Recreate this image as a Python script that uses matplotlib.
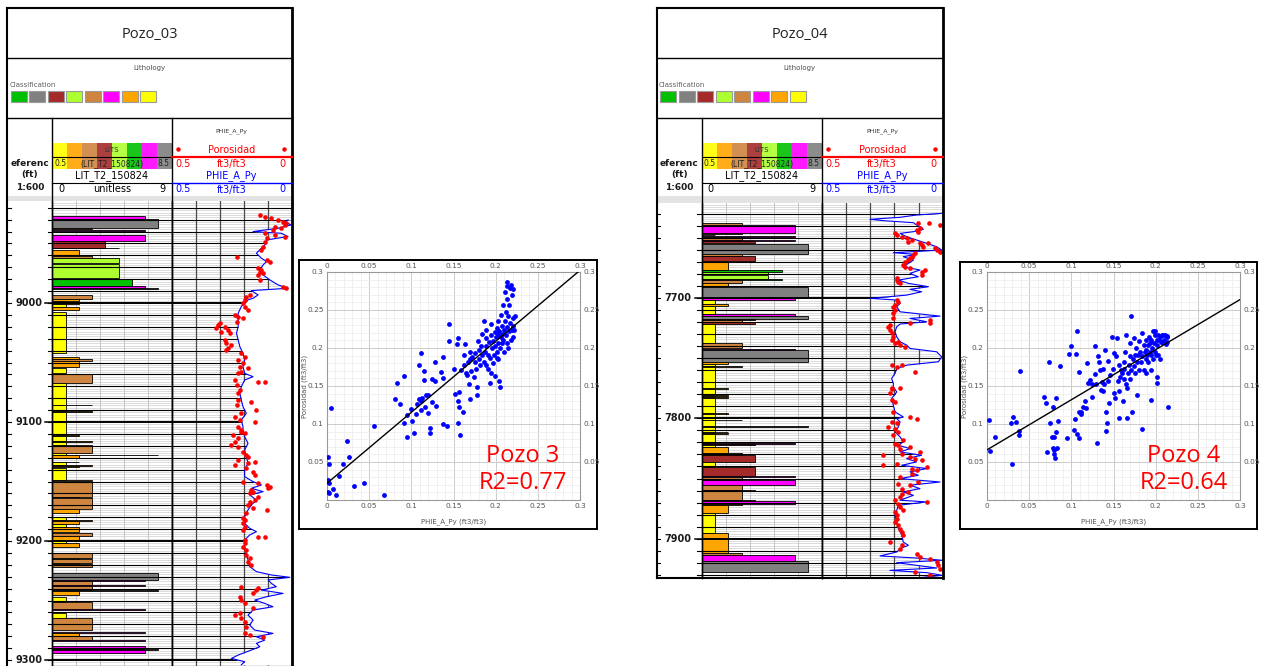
import numpy as np
import matplotlib
matplotlib.use('Agg')
import matplotlib.pyplot as plt
from matplotlib.patches import Rectangle

# lithology classes (code -> colour), legend order as in the header
lit_colors = {1: '#ffff00', 2: '#ffa500', 3: '#cd853f', 4: '#a52a2a',
              5: '#adff2f', 6: '#00c000', 7: '#ff00ff', 8: '#808080'}
legend_order = [6, 8, 4, 5, 3, 7, 2, 1]
lits_order = [1, 2, 3, 4, 5, 6, 7, 8]

# ---------------- Pozo_03 log ----------------
lit03 = [
    (8926.8, 8929.6, 7), (8929.6, 8937.2, 8), (8937.2, 8938.0, 3), (8939.0, 8939.6, 7),
    (8942.8, 8947.6, 7), (8947.6, 8953.4, 4), (8953.4, 8954.0, 5), (8955.4, 8960.5, 2),
    (8960.5, 8962.2, 3), (8962.4, 8966.0, 5), (8967.6, 8979.2, 5), (8979.6, 8985.6, 6),
    (8985.6, 8987.4, 7), (8987.4, 8988.4, 8), (8993.2, 8996.8, 3), (8996.8, 8998.4, 2),
    (8998.4, 8999.4, 1), (8999.4, 9001.0, 2), (9001.0, 9003.0, 1), (9003.0, 9005.8, 2),
    (9007.2, 9042.2, 1), (9045.0, 9047.4, 2), (9047.4, 9048.4, 3), (9048.4, 9053.4, 2),
    (9054.8, 9059.0, 1), (9059.6, 9066.8, 3), (9067.4, 9085.4, 1), (9085.4, 9086.0, 3),
    (9086.0, 9091.0, 1), (9091.0, 9091.6, 3), (9091.6, 9099.4, 1), (9099.4, 9100.0, 2),
    (9100.0, 9111.0, 1), (9111.0, 9111.6, 2), (9111.6, 9116.0, 1), (9116.0, 9116.6, 3),
    (9116.6, 9119.0, 1), (9119.2, 9126.0, 3), (9126.0, 9127.4, 1), (9127.4, 9128.0, 8),
    (9128.0, 9130.6, 2), (9133.2, 9134.0, 2), (9134.0, 9136.0, 1), (9136.0, 9136.6, 3),
    (9136.6, 9137.6, 2), (9138.8, 9148.6, 1), (9148.6, 9149.2, 3), (9150.0, 9162.6, 3),
    (9162.6, 9163.2, 2), (9164.0, 9173.0, 3), (9173.0, 9176.6, 2), (9179.4, 9182.0, 1),
    (9182.0, 9183.0, 3), (9183.0, 9186.0, 2), (9186.0, 9188.4, 1), (9188.4, 9192.0, 2),
    (9193.4, 9196.0, 3), (9196.0, 9199.4, 2), (9199.4, 9202.0, 1), (9202.0, 9204.6, 2),
    (9210.2, 9214.0, 3), (9214.0, 9215.0, 2), (9215.0, 9218.4, 3), (9218.4, 9219.0, 2),
    (9219.0, 9221.4, 3), (9226.6, 9232.6, 8), (9232.6, 9234.0, 7), (9234.0, 9237.0, 3),
    (9237.0, 9238.0, 7), (9238.0, 9241.4, 3), (9241.4, 9242.0, 8), (9242.0, 9245.4, 2),
    (9246.8, 9251.0, 1), (9251.0, 9257.0, 3), (9257.0, 9257.6, 7), (9260.8, 9265.0, 1),
    (9265.0, 9274.8, 3), (9276.2, 9277.0, 7), (9277.0, 9279.4, 2), (9279.4, 9283.2, 3),
    (9283.2, 9283.8, 7), (9288.2, 9290.6, 7), (9290.6, 9291.2, 8), (9291.2, 9293.8, 7),
]

phie03_depth = [
    8930.2, 8931.6, 8934.4, 8937.2, 8940.0, 8941.4, 8944.2, 8947.0, 8949.8, 8954.0,
    8958.2, 8962.4, 8965.2, 8968.0, 8972.2, 8976.4, 8980.6, 8984.8, 8987.6, 8989.6,
    8993.2, 8996.0, 8997.4, 9003.0, 9008.6, 9014.2, 9019.8, 9025.4, 9031.0, 9036.7,
    9042.3, 9047.9, 9053.5, 9059.1, 9061.9, 9064.7, 9070.3, 9075.9, 9081.5, 9087.1,
    9092.7, 9098.3, 9103.9, 9106.7, 9112.3, 9117.9, 9123.5, 9129.1, 9134.7, 9140.3,
    9145.9, 9150.1, 9152.9, 9155.7, 9158.5, 9161.3, 9165.5, 9169.7, 9173.9, 9179.5,
    9185.1, 9189.3, 9192.1, 9194.9, 9199.1, 9204.7, 9210.3, 9215.9, 9221.5, 9225.7,
    9228.5, 9230.5, 9232.7, 9235.5, 9238.4, 9241.2, 9244.0, 9246.8, 9249.6, 9252.4,
    9255.2, 9258.0, 9262.2, 9266.4, 9270.6, 9274.8, 9277.6, 9280.4, 9283.2, 9286.0,
    9288.8, 9291.6, 9295.8, 9298.6, 9301.4, 9304.0]
phie03 = [
    0.015, 0.029, 0.002, 0.057, 0.161, 0.043, 0.015, 0.105, 0.105, 0.126,
    0.147, 0.126, 0.105, 0.119, 0.133, 0.119, 0.091, 0.057, 0.015, 0.168,
    0.140, 0.161, 0.182, 0.210, 0.223, 0.223, 0.223, 0.230, 0.223, 0.216,
    0.203, 0.196, 0.203, 0.196, 0.161, 0.196, 0.210, 0.216, 0.210, 0.203,
    0.189, 0.210, 0.203, 0.203, 0.196, 0.182, 0.196, 0.189, 0.182, 0.196,
    0.196, 0.161, 0.126, 0.168, 0.119, 0.175, 0.147, 0.168, 0.182, 0.196,
    0.196, 0.175, 0.147, 0.175, 0.196, 0.196, 0.189, 0.182, 0.175, 0.147,
    0.085, 0.008, 0.098, 0.085, 0.064, 0.126, 0.036, 0.105, 0.154, 0.112,
    0.078, 0.161, 0.182, 0.161, 0.175, 0.154, 0.078, 0.147, 0.112, 0.147,
    0.133, 0.168, 0.223, 0.251, 0.196, 0.210]

poro03_pts = [
    (8926.0, 0.133), (8927.4, 0.112), (8928.8, 0.085), (8930.2, 0.057), (8931.6, 0.036),
    (8933.0, 0.022), (8934.4, 0.029), (8935.8, 0.071), (8937.2, 0.043), (8938.6, 0.078),
    (8941.4, 0.112), (8942.8, 0.071), (8944.2, 0.029), (8945.6, 0.105), (8948.4, 0.112),
    (8952.6, 0.119), (8955.4, 0.126), (8961.0, 0.230), (8963.8, 0.105), (8965.2, 0.091),
    (8970.8, 0.140), (8972.2, 0.126), (8973.6, 0.133), (8975.0, 0.119), (8976.4, 0.140),
    (8980.6, 0.133), (8986.2, 0.036), (8987.6, 0.022), (8993.2, 0.175), (8994.6, 0.189),
    (8997.4, 0.196), (9000.2, 0.203), (9003.0, 0.196), (9005.8, 0.182), (9010.0, 0.237),
    (9011.4, 0.223), (9012.8, 0.203), (9015.6, 0.230), (9017.0, 0.300), (9018.4, 0.307),
    (9019.8, 0.279), (9021.2, 0.314), (9022.6, 0.265), (9024.0, 0.293), (9025.4, 0.258),
    (9031.0, 0.279), (9033.8, 0.272), (9035.3, 0.251), (9038.1, 0.265), (9039.5, 0.272),
    (9042.3, 0.210), (9045.1, 0.196), (9047.9, 0.223), (9050.7, 0.203), (9053.5, 0.216),
    (9054.9, 0.182), (9057.7, 0.210), (9059.1, 0.223), (9064.7, 0.237), (9066.1, 0.140),
    (9066.1, 0.112), (9068.9, 0.230), (9073.1, 0.216), (9075.9, 0.223), (9081.5, 0.223),
    (9082.9, 0.168), (9085.7, 0.230), (9089.9, 0.147), (9092.7, 0.210), (9095.5, 0.237),
    (9098.3, 0.216), (9099.7, 0.154), (9103.9, 0.223), (9106.7, 0.210),
    (9108.1, 0.210), (9109.5, 0.196), (9110.9, 0.244), (9113.7, 0.223), (9116.5, 0.237),
    (9119.3, 0.251), (9120.7, 0.223), (9124.9, 0.203), (9127.7, 0.189), (9129.1, 0.182),
    (9131.9, 0.223), (9133.3, 0.154), (9134.7, 0.182), (9136.1, 0.237), (9138.9, 0.189),
    (9141.7, 0.161), (9144.5, 0.154), (9150.1, 0.203), (9151.5, 0.140), (9152.9, 0.105),
    (9154.3, 0.091), (9155.7, 0.098), (9157.1, 0.168), (9158.5, 0.161), (9159.9, 0.175),
    (9162.7, 0.140), (9165.5, 0.154), (9166.9, 0.175), (9169.7, 0.182), (9172.5, 0.161),
    (9173.9, 0.105), (9176.7, 0.189), (9180.9, 0.203), (9182.3, 0.196), (9185.1, 0.203),
    (9187.9, 0.196), (9190.7, 0.203), (9196.3, 0.140), (9196.9, 0.112), (9199.1, 0.196),
    (9201.9, 0.196), (9204.7, 0.203), (9207.5, 0.189), (9211.7, 0.189), (9214.5, 0.175),
    (9217.3, 0.182), (9220.1, 0.168), (9238.4, 0.210), (9239.8, 0.140), (9241.2, 0.147),
    (9244.0, 0.161), (9246.8, 0.216), (9249.6, 0.210), (9252.4, 0.196), (9256.6, 0.161),
    (9260.8, 0.216), (9262.2, 0.237), (9265.0, 0.210), (9267.8, 0.196), (9272.0, 0.189),
    (9277.6, 0.196), (9279.0, 0.175), (9280.4, 0.119)]

# ---------------- Pozo_04 log ----------------
lit04 = [
    (7637.0, 7639.0, 3), (7639.0, 7645.4, 7), (7645.4, 7646.6, 3), (7647.0, 7647.6, 1),
    (7648.0, 7649.0, 7), (7649.0, 7651.0, 3), (7651.0, 7652.4, 7), (7652.4, 7654.0, 4),
    (7655.0, 7663.0, 8), (7663.0, 7665.0, 3), (7665.0, 7668.6, 4), (7668.6, 7676.0, 2),
    (7676.0, 7678.0, 6), (7678.0, 7679.8, 5), (7680.4, 7684.0, 5), (7684.0, 7684.8, 6),
    (7685.0, 7687.0, 3), (7687.0, 7690.6, 2), (7690.6, 7699.4, 8), (7699.4, 7701.0, 7),
    (7701.0, 7705.0, 1), (7705.0, 7706.0, 2), (7706.0, 7713.4, 1), (7713.4, 7714.6, 7),
    (7714.6, 7717.4, 8), (7717.4, 7718.4, 4), (7718.4, 7719.4, 3), (7719.4, 7721.0, 4),
    (7721.0, 7737.4, 1), (7737.4, 7741.4, 3), (7742.0, 7742.6, 7), (7742.6, 7753.4, 8),
    (7753.4, 7755.0, 2), (7755.0, 7756.0, 1), (7756.0, 7757.4, 3), (7757.4, 7775.0, 1),
    (7775.0, 7775.6, 2), (7775.6, 7780.4, 1), (7780.4, 7781.0, 2), (7781.0, 7782.4, 1),
    (7782.4, 7783.0, 2), (7783.0, 7795.4, 1), (7795.4, 7796.0, 2), (7796.0, 7801.0, 1),
    (7801.0, 7801.6, 3), (7801.6, 7806.4, 1), (7806.4, 7807.0, 8), (7807.0, 7811.0, 1),
    (7811.0, 7811.6, 2), (7811.6, 7812.4, 1), (7812.4, 7813.0, 2), (7813.0, 7820.4, 1),
    (7820.4, 7821.0, 7), (7821.0, 7822.0, 4), (7822.0, 7823.4, 1), (7823.4, 7829.0, 2),
    (7829.0, 7830.6, 3), (7830.6, 7836.0, 4), (7836.0, 7840.4, 1), (7840.4, 7848.0, 4),
    (7848.0, 7848.6, 7), (7848.6, 7851.0, 3), (7851.0, 7855.4, 7), (7855.4, 7859.4, 3),
    (7859.4, 7860.0, 4), (7860.0, 7868.0, 3), (7868.0, 7869.0, 4), (7869.0, 7871.0, 7),
    (7871.0, 7872.0, 3), (7872.0, 7879.0, 2), (7879.0, 7895.4, 1), (7895.4, 7912.0, 2),
    (7912.0, 7913.4, 3), (7913.4, 7919.0, 7), (7919.0, 7928.0, 8),
]

phie04_depth = [
    7629.2, 7630.6, 7632.5, 7634.2, 7635.3, 7637.0, 7638.9, 7640.3, 7642.5, 7644.5,
    7645.9, 7648.7, 7651.4, 7654.2, 7657.0, 7659.8, 7662.0, 7663.4, 7665.3, 7668.1,
    7670.9, 7673.7, 7676.4, 7679.2, 7682.0, 7684.8, 7687.5, 7690.3, 7692.5, 7694.5,
    7697.3, 7700.0, 7701.4, 7704.2, 7707.0, 7711.2, 7714.8, 7716.7, 7719.5, 7721.4,
    7723.7, 7727.8, 7732.0, 7736.2, 7738.9, 7741.7, 7744.5, 7748.7, 7752.8, 7755.6,
    7758.4, 7762.5, 7766.7, 7770.9, 7773.7, 7777.9, 7783.4, 7789.0, 7794.5, 7798.7,
    7800.1, 7802.9, 7807.0, 7811.2, 7815.4, 7819.5, 7822.3, 7825.1, 7827.9, 7830.6,
    7833.4, 7836.2, 7839.0, 7841.7, 7844.5, 7847.3, 7850.1, 7852.9, 7855.6, 7858.4,
    7861.2, 7864.0, 7868.1, 7869.5, 7872.3, 7876.5, 7880.6, 7886.2, 7891.7, 7897.3,
    7902.9, 7905.6, 7908.4, 7911.2, 7914.5, 7916.2, 7918.1, 7920.1, 7922.3, 7924.5,
    7926.5, 7928.4, 7930.6, 7932.9]
phie04 = [
    0.002, 0.108, 0.176, 0.300, 0.245, 0.121, 0.108, 0.094, 0.080, 0.121,
    0.176, 0.149, 0.108, 0.066, 0.025, 0.004, 0.204, 0.108, 0.163, 0.121,
    0.142, 0.163, 0.094, 0.135, 0.101, 0.183, 0.142, 0.059, 0.135, 0.087,
    0.149, 0.300, 0.190, 0.176, 0.190, 0.176, 0.011, 0.135, 0.066, 0.176,
    0.190, 0.197, 0.190, 0.176, 0.149, 0.135, 0.025, 0.004, 0.018, 0.149,
    0.190, 0.197, 0.211, 0.204, 0.204, 0.190, 0.211, 0.204, 0.197, 0.163,
    0.190, 0.176, 0.183, 0.197, 0.176, 0.163, 0.183, 0.135, 0.176, 0.087,
    0.149, 0.108, 0.169, 0.066, 0.135, 0.101, 0.176, 0.011, 0.135, 0.094,
    0.163, 0.121, 0.176, 0.066, 0.183, 0.190, 0.197, 0.190, 0.183, 0.169,
    0.163, 0.142, 0.176, 0.190, 0.259, 0.108, 0.002, 0.190, 0.108, 0.025,
    0.218, 0.066, 0.002, 0.108]

poro04_pts = [
    (7637.0, 0.055), (7637.5, 0.101), (7638.9, 0.011), (7641.7, 0.094), (7643.1, 0.108),
    (7644.5, 0.101), (7645.9, 0.197), (7647.3, 0.190), (7648.7, 0.169), (7650.0, 0.149),
    (7651.4, 0.128), (7652.8, 0.142), (7654.2, 0.094), (7655.6, 0.087), (7654.2, 0.059),
    (7657.0, 0.080), (7658.4, 0.032), (7659.8, 0.025), (7661.2, 0.011), (7662.5, 0.114),
    (7663.9, 0.121), (7665.3, 0.128), (7666.7, 0.135), (7668.1, 0.142), (7669.5, 0.156),
    (7672.3, 0.163), (7673.7, 0.156), (7675.0, 0.135), (7676.4, 0.073), (7677.8, 0.087),
    (7680.6, 0.087), (7683.4, 0.190), (7684.8, 0.190), (7686.2, 0.183), (7687.5, 0.176),
    (7701.4, 0.190), (7702.8, 0.183), (7705.6, 0.197), (7707.0, 0.204), (7709.8, 0.197),
    (7712.5, 0.204), (7716.7, 0.204), (7718.1, 0.052), (7720.3, 0.135), (7720.9, 0.052),
    (7722.3, 0.218), (7723.7, 0.225), (7726.4, 0.218), (7729.2, 0.211), (7732.0, 0.204),
    (7734.8, 0.211), (7736.2, 0.183), (7737.5, 0.197), (7738.9, 0.176), (7740.3, 0.156),
    (7755.6, 0.211), (7757.0, 0.190), (7755.6, 0.169), (7761.2, 0.114), (7775.0, 0.211),
    (7775.0, 0.176),
    (7775.1, 0.211), (7779.2, 0.218), (7784.8, 0.211), (7786.2, 0.197), (7794.5, 0.204),
    (7798.7, 0.135), (7800.1, 0.108), (7802.9, 0.211), (7804.2, 0.190), (7807.0, 0.225),
    (7808.4, 0.197), (7811.2, 0.183), (7814.0, 0.204), (7818.1, 0.163), (7820.9, 0.197),
    (7822.3, 0.183), (7823.7, 0.135), (7825.1, 0.176), (7827.9, 0.094), (7829.2, 0.169),
    (7830.6, 0.245), (7832.0, 0.135), (7833.4, 0.114), (7834.8, 0.087), (7837.6, 0.190),
    (7839.0, 0.245), (7840.4, 0.066), (7841.7, 0.128), (7843.1, 0.108), (7845.9, 0.128),
    (7848.7, 0.176), (7852.9, 0.101), (7854.2, 0.183), (7855.6, 0.135), (7858.4, 0.169),
    (7861.2, 0.142), (7862.6, 0.169), (7865.4, 0.176), (7868.1, 0.197), (7869.5, 0.066),
    (7870.9, 0.183), (7873.7, 0.176), (7876.5, 0.163), (7877.9, 0.197), (7880.6, 0.190),
    (7883.4, 0.190), (7886.2, 0.197), (7889.0, 0.183), (7891.7, 0.176), (7894.5, 0.169),
    (7897.3, 0.163), (7902.9, 0.218), (7905.6, 0.169), (7908.4, 0.176), (7912.6, 0.108),
    (7915.4, 0.094), (7916.7, 0.052), (7919.5, 0.025), (7922.3, 0.018), (7925.1, 0.011),
    (7927.9, 0.114), (7930.6, 0.052)]

# ---------------- crossplots (x = PHIE_A_Py, y = Porosidad) ----------------
cross03_x = [
    0.005, 0.001, 0.002, 0.001, 0.002, 0.001, 0.002, 0.007, 0.011, 0.014,
    0.019, 0.024, 0.026, 0.032, 0.044, 0.056, 0.068, 0.081, 0.083, 0.087,
    0.091, 0.091, 0.095, 0.095, 0.100, 0.101, 0.103, 0.105, 0.107, 0.109,
    0.109, 0.111, 0.112, 0.112, 0.113, 0.115, 0.115, 0.116, 0.117, 0.120,
    0.120, 0.122, 0.122, 0.124, 0.125, 0.128, 0.128, 0.129, 0.135, 0.137,
    0.138, 0.138, 0.142, 0.145, 0.145, 0.151, 0.152, 0.154, 0.155, 0.155,
    0.156, 0.155, 0.157, 0.158, 0.159, 0.161, 0.162, 0.163, 0.164, 0.165,
    0.166, 0.167, 0.168, 0.169, 0.169, 0.170, 0.171, 0.172, 0.174, 0.175,
    0.176, 0.177, 0.178, 0.178, 0.179, 0.180, 0.180, 0.182, 0.183, 0.184,
    0.184, 0.186, 0.186, 0.187, 0.188, 0.188, 0.189, 0.189, 0.191, 0.191,
    0.192, 0.193, 0.193, 0.194, 0.195, 0.195, 0.196, 0.197, 0.197, 0.198,
    0.199, 0.199, 0.199, 0.200, 0.201, 0.201, 0.202, 0.203, 0.203, 0.203,
    0.203, 0.204, 0.205, 0.205, 0.206, 0.206, 0.207, 0.207, 0.208, 0.209,
    0.209, 0.210, 0.210, 0.211, 0.211, 0.212, 0.212, 0.213, 0.213, 0.214,
    0.214, 0.214, 0.215, 0.215, 0.216, 0.216, 0.217, 0.217, 0.218, 0.218,
    0.219, 0.219, 0.220, 0.220, 0.221, 0.221, 0.222, 0.223, 0.204]
cross03_y = [
    0.121, 0.057, 0.047, 0.026, 0.022, 0.011, 0.009, 0.015, 0.007, 0.031,
    0.048, 0.077, 0.057, 0.018, 0.023, 0.098, 0.007, 0.133, 0.154, 0.126,
    0.163, 0.101, 0.112, 0.083, 0.120, 0.104, 0.088, 0.113, 0.126, 0.133,
    0.178, 0.130, 0.194, 0.119, 0.134, 0.170, 0.158, 0.123, 0.138, 0.114,
    0.138, 0.088, 0.095, 0.129, 0.159, 0.156, 0.181, 0.124, 0.168, 0.161,
    0.188, 0.100, 0.098, 0.231, 0.209, 0.173, 0.139, 0.205, 0.213, 0.130,
    0.123, 0.101, 0.142, 0.086, 0.171, 0.116, 0.178, 0.191, 0.205, 0.167,
    0.165, 0.181, 0.152, 0.195, 0.133, 0.185, 0.170, 0.188, 0.162, 0.181,
    0.193, 0.173, 0.149, 0.138, 0.209, 0.186, 0.198, 0.178, 0.202, 0.191,
    0.218, 0.235, 0.182, 0.195, 0.213, 0.178, 0.203, 0.224, 0.191, 0.173,
    0.208, 0.154, 0.187, 0.217, 0.167, 0.231, 0.200, 0.180, 0.209, 0.191,
    0.221, 0.202, 0.163, 0.215, 0.187, 0.226, 0.195, 0.217, 0.235, 0.207,
    0.185, 0.222, 0.200, 0.149, 0.215, 0.244, 0.206, 0.229, 0.219, 0.257,
    0.210, 0.195, 0.224, 0.274, 0.235, 0.217, 0.248, 0.287, 0.281, 0.265,
    0.228, 0.207, 0.242, 0.200, 0.257, 0.222, 0.279, 0.233, 0.210, 0.283,
    0.270, 0.224, 0.277, 0.215, 0.240, 0.229, 0.224, 0.242, 0.156]
fit03 = (0.934, 0.022)   # slope, intercept
r2_03 = 0.77

cross04_x = [
    0.002, 0.004, 0.010, 0.028, 0.030, 0.031, 0.034, 0.038, 0.038, 0.039,
    0.067, 0.070, 0.071, 0.073, 0.075, 0.077, 0.078, 0.078, 0.079, 0.080,
    0.080, 0.081, 0.082, 0.082, 0.083, 0.084, 0.086, 0.095, 0.097, 0.100,
    0.103, 0.104, 0.105, 0.107, 0.107, 0.109, 0.109, 0.109, 0.111, 0.112,
    0.114, 0.116, 0.117, 0.118, 0.120, 0.122, 0.124, 0.125, 0.128, 0.128,
    0.129, 0.130, 0.132, 0.133, 0.134, 0.135, 0.136, 0.137, 0.138, 0.139,
    0.140, 0.141, 0.141, 0.142, 0.143, 0.144, 0.145, 0.146, 0.148, 0.149,
    0.150, 0.151, 0.152, 0.153, 0.154, 0.155, 0.156, 0.157, 0.157, 0.158,
    0.159, 0.160, 0.161, 0.162, 0.163, 0.163, 0.164, 0.165, 0.165, 0.166,
    0.166, 0.167, 0.168, 0.169, 0.169, 0.170, 0.171, 0.171, 0.172, 0.173,
    0.174, 0.174, 0.175, 0.176, 0.177, 0.178, 0.178, 0.179, 0.180, 0.180,
    0.182, 0.183, 0.184, 0.184, 0.184, 0.186, 0.186, 0.187, 0.188, 0.188,
    0.189, 0.189, 0.190, 0.191, 0.191, 0.192, 0.193, 0.193, 0.194, 0.195,
    0.195, 0.195, 0.196, 0.197, 0.197, 0.198, 0.199, 0.199, 0.199, 0.200,
    0.201, 0.201, 0.201, 0.202, 0.203, 0.203, 0.204, 0.205, 0.205, 0.206,
    0.207, 0.208, 0.209, 0.210, 0.211, 0.212, 0.213, 0.214, 0.215, 0.214]
cross04_y = [
    0.105, 0.064, 0.083, 0.101, 0.048, 0.109, 0.103, 0.091, 0.086, 0.170,
    0.135, 0.128, 0.063, 0.181, 0.101, 0.083, 0.123, 0.068, 0.060, 0.066,
    0.083, 0.055, 0.089, 0.134, 0.068, 0.104, 0.176, 0.082, 0.192, 0.203,
    0.092, 0.107, 0.192, 0.223, 0.087, 0.169, 0.116, 0.082, 0.113, 0.116,
    0.123, 0.130, 0.121, 0.180, 0.154, 0.158, 0.152, 0.135, 0.166, 0.202,
    0.152, 0.075, 0.190, 0.182, 0.171, 0.145, 0.155, 0.173, 0.143, 0.152,
    0.197, 0.116, 0.091, 0.101, 0.156, 0.183, 0.127, 0.165, 0.215, 0.173,
    0.141, 0.193, 0.134, 0.190, 0.213, 0.156, 0.143, 0.108, 0.178, 0.162,
    0.171, 0.167, 0.130, 0.182, 0.172, 0.159, 0.195, 0.217, 0.152, 0.147,
    0.108, 0.167, 0.178, 0.206, 0.159, 0.189, 0.242, 0.171, 0.116, 0.185,
    0.213, 0.176, 0.191, 0.167, 0.200, 0.138, 0.182, 0.191, 0.171, 0.209,
    0.195, 0.182, 0.094, 0.220, 0.189, 0.171, 0.204, 0.195, 0.186, 0.211,
    0.167, 0.197, 0.191, 0.204, 0.182, 0.215, 0.195, 0.206, 0.171, 0.191,
    0.132, 0.211, 0.200, 0.223, 0.186, 0.206, 0.217, 0.195, 0.223, 0.191,
    0.211, 0.162, 0.154, 0.204, 0.217, 0.191, 0.211, 0.186, 0.215, 0.208,
    0.217, 0.208, 0.217, 0.211, 0.217, 0.205, 0.216, 0.215, 0.122, 0.208]
fit04 = (0.659, 0.066)
r2_04 = 0.64

cross_ticks = [0, 0.05, 0.1, 0.15, 0.2, 0.25, 0.3]
cross_ticklabels = ['0', '0.05', '0.1', '0.15', '0.2', '0.25', '0.3']

# ---------------------------------------------------------------------------
W, H = 1262, 666
fig = plt.figure(figsize=(W / 100, H / 100), dpi=100)
fig.patch.set_facecolor('white')


def rect(x0, y0, x1, y1):
    # pixel box (top-left origin) -> figure fraction
    return [x0 / W, 1 - y1 / H, (x1 - x0) / W, (y1 - y0) / H]


def depth_grid(ax, dtop, dbot):
    for d in np.arange(np.ceil(dtop / 2) * 2, dbot, 2):
        if d % 100 == 0:
            ax.axhline(d, color='black', lw=1.4, zorder=3)
        elif d % 10 == 0:
            ax.axhline(d, color='black', lw=0.8, zorder=3)
        else:
            ax.axhline(d, color='#d6d6d6', lw=0.6, zorder=0.5)


def clean(ax):
    ax.set_xticks([])
    ax.set_yticks([])
    for s in ['top', 'bottom']:
        ax.spines[s].set_visible(False)
    for s in ['left', 'right']:
        ax.spines[s].set_linewidth(1)


def draw_well(px, ytrack, ybot, drange, lit, cd, cv, pts, labels):
    xl, xs1, xs2, xr = px
    dtop, dbot = drange
    # depth track
    dax = fig.add_axes(rect(xl, ytrack, xs1, ybot))
    dax.set_xlim(0, 1)
    dax.set_ylim(dbot, dtop)
    dax.axis('off')
    for d in np.arange(np.ceil(dtop / 10) * 10, dbot, 10):
        dax.axhline(d, 0, 0.08, color='black', lw=0.8)
        dax.axhline(d, 0.9, 1, color='black', lw=0.8)
    for d in labels:
        dax.axhline(d, 0.84, 1, color='black', lw=1.1)
        dax.text(0.78, d, str(d), ha='right', va='center', fontsize=7,
                 fontweight='bold', color='#1a1a1a')

    # lithology track
    lax = fig.add_axes(rect(xs1, ytrack, xs2, ybot))
    lax.set_xlim(0, 9)
    lax.set_ylim(dbot, dtop)
    clean(lax)
    for k in range(1, 5):
        lax.axvline(9 * k / 5, color='#c4c4c4', lw=0.7, zorder=0.6)
    depth_grid(lax, dtop, dbot)
    for top, base, code in lit:
        lax.barh((top + base) / 2, code, height=base - top, left=0,
                 color=lit_colors[code], edgecolor='black', linewidth=0.6, zorder=2)

    # porosity track
    pax = fig.add_axes(rect(xs2, ytrack, xr, ybot))
    pax.set_xlim(0.5, 0)
    pax.set_ylim(dbot, dtop)
    clean(pax)
    for v in [0.1, 0.2, 0.3, 0.4]:
        pax.axvline(v, color='#4a4a4a', lw=0.9, zorder=3)
    depth_grid(pax, dtop, dbot)
    pax.fill_betweenx(cd, cv, 0, color='white', lw=0, zorder=4)
    pax.plot(cv, cd, color='blue', lw=0.8, zorder=5)
    pd_, pv = zip(*pts)
    pax.scatter(pv, pd_, s=11, color='red', lw=0, zorder=6)


def draw_header(ov, px, ytrack, ybot, name, unit_text, close_bottom):
    xl, xs1, xs2, xr = px
    ov.add_patch(Rectangle((xl, 196), xr - xl, ytrack - 196, color='#e3e3e3', lw=0))
    ov.plot([xl, xl], [8, ybot], color='black', lw=1.5)
    ov.plot([xr, xr], [8, ybot], color='black', lw=2)
    ov.plot([xl, xr], [8, 8], color='black', lw=1.5)
    if close_bottom:
        ov.plot([xl, xr], [ybot, ybot], color='black', lw=1.5)
    ov.plot([xl, xr], [58, 58], color='black', lw=1)
    ov.plot([xl, xr], [118, 118], color='black', lw=1)
    ov.plot([xs1, xs1], [118, ybot], color='black', lw=1)
    ov.plot([xs2, xs2], [118, ybot], color='black', lw=1)

    ov.text((xl + xr) / 2, 35, name, ha='center', va='center', fontsize=10.5,
            family='Open Sans', color='#222222')
    ov.text((xl + xr) / 2, 68, 'Lithology', ha='center', va='center', fontsize=5, color='#505050')
    ov.text(xl + 2, 85, 'Classification', ha='left', va='center', fontsize=5, color='#606060')
    for i, code in enumerate(legend_order):
        ov.add_patch(Rectangle((xl + 3.5 + i * 18.5, 91), 16, 11, facecolor=lit_colors[code],
                               edgecolor='#9a9a9a', lw=0.8))

    # depth header
    cx = (xl + xs1) / 2
    for y, t in [(163, 'eferenc'), (175, '(ft)'), (187, '1:600')]:
        ov.text(cx, y, t, ha='center', va='center', fontsize=6.5, fontweight='bold', color='#1a1a1a')

    # lithology header
    cw = (xs2 - xs1) / 8
    for i, code in enumerate(lits_order):
        ov.add_patch(Rectangle((xs1 + i * cw, 143), cw, 26, facecolor=lit_colors[code],
                               alpha=0.9, lw=0))
    lm = (xs1 + xs2) / 2
    ov.text(lm, 150, 'LITS', ha='center', va='center', fontsize=5, color='#333333')
    ov.plot([xs1, xs2], [157, 157], color='black', lw=0.8)
    ov.text(xs1 + 2, 164, '0.5', ha='left', va='center', fontsize=5.5, color='#222222')
    ov.text(lm, 164, '(LIT_T2_150824)', ha='center', va='center', fontsize=5.5, color='#222222')
    ov.text(xs2 - 2, 164, '8.5', ha='right', va='center', fontsize=5.5, color='#222222')
    ov.text(lm, 176, 'LIT_T2_150824', ha='center', va='center', fontsize=7, color='black')
    ov.plot([xs1, xs2], [182.5, 182.5], color='black', lw=0.8)
    ov.text(xs1 + 6, 189.5, '0', ha='left', va='center', fontsize=7)
    if unit_text:
        ov.text(lm, 189.5, unit_text, ha='center', va='center', fontsize=7)
    ov.text(xs2 - 6, 189.5, '9', ha='right', va='center', fontsize=7)

    # porosity header
    pm = (xs2 + xr) / 2
    ov.text(pm, 131, 'PHIE_A_Py', ha='center', va='center', fontsize=4.5, color='#333333')
    ov.text(pm, 150, 'Porosidad', ha='center', va='center', fontsize=7, color='red')
    ov.plot([xs2 + 6, xr - 8], [149, 149], 'o', color='red', ms=2.2)
    ov.plot([xs2, xr], [157, 157], color='red', lw=1.6)
    for clr, y in [('red', 164), ('blue', 189.5)]:
        ov.text(xs2 + 4, y, '0.5', ha='left', va='center', fontsize=7, color=clr)
        ov.text(pm, y, 'ft3/ft3', ha='center', va='center', fontsize=7, color=clr)
        ov.text(xr - 6, y, '0', ha='right', va='center', fontsize=7, color=clr)
    ov.text(pm, 176, 'PHIE_A_Py', ha='center', va='center', fontsize=7, color='blue')
    ov.plot([xs2, xr], [183, 183], color='blue', lw=1)


def draw_cross(outer, inner, xs, ys, fit, name, r2, tx):
    fr = fig.add_axes(rect(*outer))
    fr.set_xticks([])
    fr.set_yticks([])
    for s in fr.spines.values():
        s.set_linewidth(1.4)

    ax = fig.add_axes(rect(*inner))
    ax.set_xlim(0, 0.3)
    ax.set_ylim(0, 0.3)
    ax.set_xticks(cross_ticks)
    ax.set_xticklabels(cross_ticklabels)
    ax.set_yticks(cross_ticks[1:])
    ax.set_yticklabels(cross_ticklabels[1:])
    ax.set_xticks(np.arange(0, 0.301, 0.01), minor=True)
    ax.set_yticks(np.arange(0, 0.301, 0.01), minor=True)
    ax.grid(which='minor', color='#ececec', lw=0.5)
    ax.grid(which='major', color='#cccccc', lw=0.7)
    ax.set_axisbelow(True)
    ax.tick_params(which='both', length=0, labelsize=5.3, labelcolor='#555555', pad=2.5,
                   top=True, right=True, labeltop=True, labelright=True)
    for s in ax.spines.values():
        s.set_color('#9a9a9a')
        s.set_linewidth(0.8)

    ax.scatter(xs, ys, s=12, color='#0000ff', lw=0, zorder=3)
    fx = np.array([0, 0.3])
    ax.plot(fx, fit[1] + fit[0] * fx, color='black', lw=1, zorder=4)

    ax.text(tx, 0.195, name, transform=ax.transAxes, ha='center', va='center',
            fontsize=17, color='red', family='Open Sans')
    ax.text(tx, 0.075, 'R2=%.2f' % r2, transform=ax.transAxes, ha='center', va='center',
            fontsize=17, color='red', family='Open Sans')
    ax.text(-0.087, 0.5, 'Porosidad (ft3/ft3)', transform=ax.transAxes, rotation=90,
            ha='center', va='center', fontsize=5, color='#555555')
    ax.text(0.5, -0.096, 'PHIE_A_Py (ft3/ft3)', transform=ax.transAxes,
            ha='center', va='center', fontsize=5, color='#555555')


px03 = (7.3, 52.3, 171.7, 291.7)
px04 = (656.7, 701.7, 821.7, 942.7)

draw_well(px03, 201, 666, (8914.3, 9305.0), lit03, phie03_depth, phie03, poro03_pts,
          [9000, 9100, 9200, 9300])
draw_well(px04, 203, 578.3, (7620.6, 7933.1), lit04, phie04_depth, phie04, poro04_pts,
          [7700, 7800, 7900])

draw_cross((299, 260, 597, 529), (327, 272, 580, 500), cross03_x, cross03_y,
           fit03, 'Pozo 3', r2_03, 0.775)
draw_cross((960, 262, 1257, 529), (987, 272, 1240, 500), cross04_x, cross04_y,
           fit04, 'Pozo 4', r2_04, 0.779)

ov = fig.add_axes([0, 0, 1, 1])
ov.set_xlim(0, W)
ov.set_ylim(H, 0)
ov.axis('off')
ov.patch.set_alpha(0)
draw_header(ov, px03, 201, 666, 'Pozo_03', 'unitless', False)
draw_header(ov, px04, 203, 578.3, 'Pozo_04', '', True)

fig.savefig('out.png', dpi=100)
